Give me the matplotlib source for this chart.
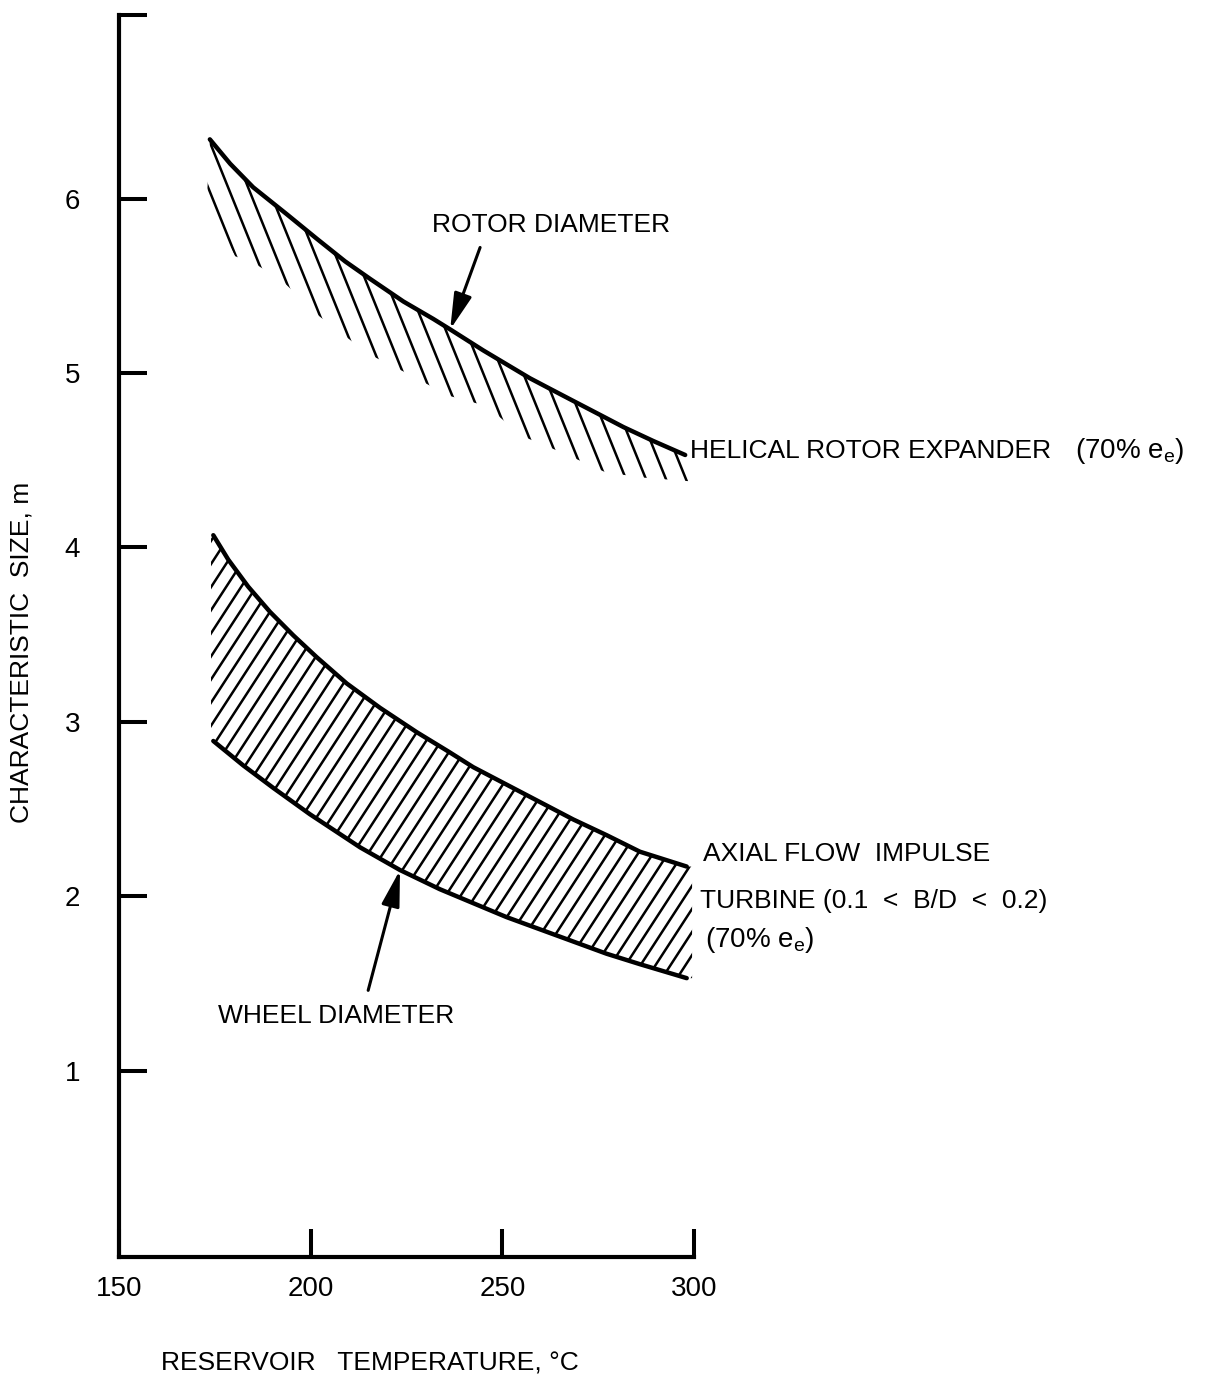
import numpy as np
import matplotlib
matplotlib.use('Agg')
import matplotlib.pyplot as plt
from matplotlib.patches import Polygon
from matplotlib.collections import LineCollection
from matplotlib import font_manager

# ---------------- fonts ----------------
_names = {f.name for f in font_manager.fontManager.ttflist}
FONT = 'DejaVu Sans'
for cand in ['Liberation Sans Narrow', 'Liberation Sans']:
    if cand in _names:
        FONT = cand
        break
plt.rcParams['font.family'] = [FONT, 'DejaVu Sans']
plt.rcParams['mathtext.fontset'] = 'custom'
plt.rcParams['mathtext.rm'] = FONT
plt.rcParams['mathtext.it'] = FONT

# ---------------- data ----------------
temp_ticks = [150, 200, 250, 300]
size_ticks = [1, 2, 3, 4, 5, 6]
x_limits = (150, 300)
y_limits = (-0.069, 7.053)

# helical rotor expander: rotor diameter curve
rotor_T = [173.7, 179.0, 185.0, 193.8, 201.6, 209.0, 215.5, 224.2, 232.0, 236.4, 245.0,
           251.1, 257.2, 262.4, 268.5, 275.5, 281.6, 289.4, 297.7]
rotor_D = [6.34, 6.20, 6.065, 5.91, 5.77, 5.64, 5.54, 5.41, 5.31, 5.25, 5.13,
           5.05, 4.97, 4.91, 4.84, 4.76, 4.69, 4.61, 4.53]
# lower edge of the hatching under the rotor curve
rotor_hatch_T = [172.9, 180.3, 186.0, 193.0, 202.0, 215.0, 225.0, 236.0, 246.0,
                 255.0, 266.0, 277.0, 287.0, 298.5]
rotor_hatch_D = [5.98, 5.67, 5.62, 5.52, 5.33, 5.11, 5.00, 4.87, 4.81,
                 4.64, 4.54, 4.43, 4.40, 4.38]

# axial flow impulse turbine: wheel diameter band
wheel_upper_T = [174.6, 178.5, 183.7, 189.4, 195.5, 201.6, 209.4, 218.1, 227.7,
                 235.9, 242.4, 251.1, 259.8, 268.5, 277.2, 285.9, 298.1]
wheel_upper_D = [4.07, 3.93, 3.775, 3.63, 3.495, 3.37, 3.22, 3.08, 2.94,
                 2.83, 2.74, 2.64, 2.54, 2.44, 2.35, 2.255, 2.17]
wheel_lower_T = [174.6, 182.4, 190.3, 199.8, 212.9, 223.3, 233.7, 242.4, 251.1,
                 259.8, 268.5, 277.2, 285.9, 298.1]
wheel_lower_D = [2.89, 2.75, 2.62, 2.47, 2.28, 2.15, 2.04, 1.96, 1.88,
                 1.81, 1.74, 1.67, 1.61, 1.53]
wheel_hatch_T_range = (174.0, 299.5)

# annotations
rotor_label_xy = (231.7, 5.81)
rotor_arrow_from = (244.2, 5.72)
rotor_arrow_to = (236.4, 5.25)
wheel_label_xy = (175.8, 1.27)
wheel_arrow_from = (215.0, 1.46)
wheel_arrow_to = (223.3, 2.15)

# ---------------- figure ----------------
W, H, DPI = 1225, 1375, 100
fig = plt.figure(figsize=(W / DPI, H / DPI), dpi=DPI)
ax = fig.add_axes([119 / W, (H - 1257) / H, 575 / W, 1242 / H])
ax.set_xlim(*x_limits)
ax.set_ylim(*y_limits)

FS = 19
LW_CURVE = 3.2
LW_HATCH = 1.8


def hatch_region(ax, poly_xy, angle_deg, spacing_px, lw):
    poly_xy = np.asarray(poly_xy, dtype=float)
    patch = Polygon(poly_xy, closed=True, transform=ax.transData,
                    facecolor='none', edgecolor='none')
    ax.add_patch(patch)
    disp = ax.transData.transform(poly_xy)
    lo, hi = disp.min(0), disp.max(0)
    th = np.radians(angle_deg)
    d = np.array([np.cos(th), np.sin(th)])
    n = np.array([-np.sin(th), np.cos(th)])
    corners = np.array([[lo[0], lo[1]], [lo[0], hi[1]], [hi[0], lo[1]], [hi[0], hi[1]]])
    proj = corners @ n
    L = np.hypot(*(hi - lo))
    c = (lo + hi) / 2
    perp = spacing_px * abs(np.sin(th))
    inv = ax.transData.inverted()
    segs = []
    for t in np.arange(proj.min(), proj.max() + perp, perp):
        p0 = c + n * (t - c @ n)
        segs.append(inv.transform(np.array([p0 - d * L, p0 + d * L])))
    lc = LineCollection(segs, colors='k', linewidths=lw, capstyle='butt')
    lc.set_clip_path(patch)
    ax.add_collection(lc, autolim=False)


# hatching of the rotor-diameter curve
rotor_poly = list(zip(rotor_T, rotor_D)) + list(zip(rotor_hatch_T[::-1], rotor_hatch_D[::-1]))
hatch_region(ax, rotor_poly, -68, 20, LW_HATCH)

# hatching of the wheel-diameter band
t0, t1 = wheel_hatch_T_range
wheel_poly = ([(t0, wheel_upper_D[0])] + list(zip(wheel_upper_T, wheel_upper_D))
              + [(t1, wheel_upper_D[-1]), (t1, wheel_lower_D[-1])]
              + list(zip(wheel_lower_T[::-1], wheel_lower_D[::-1]))
              + [(t0, wheel_lower_D[0])])
hatch_region(ax, wheel_poly, 57, 15, LW_HATCH)

# curves
kw = dict(color='k', lw=LW_CURVE, solid_capstyle='round', solid_joinstyle='round')
ax.plot(rotor_T, rotor_D, **kw)
ax.plot(wheel_upper_T, wheel_upper_D, **kw)
ax.plot(wheel_lower_T, wheel_lower_D, **kw)

# axes styling
for s in ['top', 'right']:
    ax.spines[s].set_visible(False)
for s in ['left', 'bottom']:
    ax.spines[s].set_linewidth(3.0)
ax.set_xticks(temp_ticks)
ax.set_xticklabels([str(t) for t in temp_ticks])
ax.set_yticks(size_ticks + [y_limits[1]])
ax.set_yticklabels([str(v) for v in size_ticks] + [''])
ax.tick_params(axis='both', direction='in', length=20, width=2.9, labelsize=20)
ax.tick_params(axis='x', pad=14)
ax.tick_params(axis='y', pad=28)

# axis titles
ax.text(0.4365, -0.091, 'RESERVOIR   TEMPERATURE, \u00b0C', transform=ax.transAxes,
        ha='center', va='baseline', fontsize=FS)
ax.text(-0.1687, 0.487, 'CHARACTERISTIC  SIZE, m', transform=ax.transAxes,
        ha='center', va='center', rotation=90, fontsize=FS)

# labels
ax.text(*rotor_label_xy, 'ROTOR DIAMETER', fontsize=FS, ha='left', va='baseline')
ax.text(299.0, 4.51, 'HELICAL ROTOR EXPANDER', fontsize=FS, ha='left', va='baseline')
ax.text(399.4, 4.51, '(70% e$_{\\mathregular{e}}$)', fontsize=FS + 1, ha='left', va='baseline')
ax.text(302.4, 2.20, 'AXIAL FLOW  IMPULSE', fontsize=FS, ha='left', va='baseline')
ax.text(301.6, 1.93, 'TURBINE (0.1  <  B/D  <  0.2)', fontsize=FS, ha='left', va='baseline')
ax.text(302.9, 1.71, '(70% e$_{\\mathregular{e}}$)', fontsize=FS + 1, ha='left', va='baseline')
ax.text(*wheel_label_xy, 'WHEEL DIAMETER', fontsize=FS, ha='left', va='baseline')

arrow = dict(arrowstyle='-|>,head_length=1.0,head_width=0.25', color='k', lw=2.2,
             mutation_scale=22, shrinkA=0, shrinkB=0)
ax.annotate('', xy=rotor_arrow_to, xytext=rotor_arrow_from, arrowprops=arrow)
ax.annotate('', xy=wheel_arrow_to, xytext=wheel_arrow_from, arrowprops=arrow)

fig.savefig('out.png', dpi=DPI, facecolor='white')
